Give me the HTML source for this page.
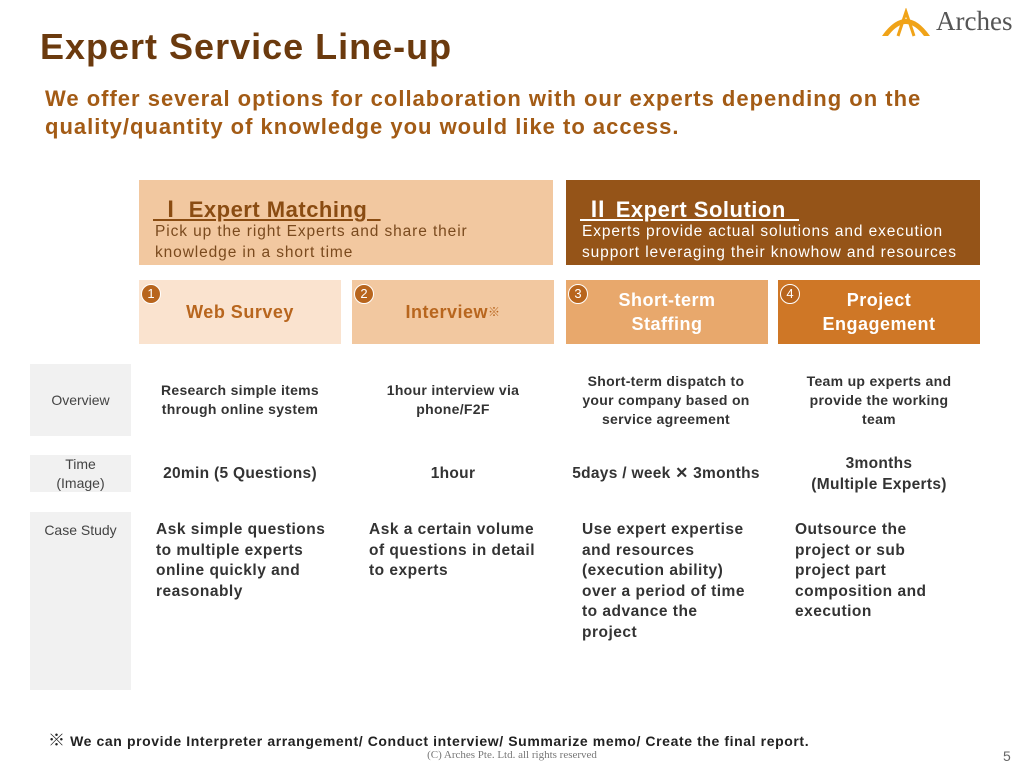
<!DOCTYPE html>
<html><head><meta charset="utf-8"><style>
*{margin:0;padding:0;box-sizing:border-box}
body{width:1024px;height:768px;background:#fff;position:relative;overflow:hidden;font-family:"Liberation Sans","Noto Sans CJK JP",sans-serif}
.a{position:absolute}
.lbl{background:#f1f1f1;color:#444;font-size:14px;display:flex;align-items:center;justify-content:center;text-align:center;line-height:19px}
.cell{color:#333;font-size:14px;font-weight:bold;text-align:center;line-height:19px;display:flex;align-items:center;justify-content:center;letter-spacing:0.3px}
.cs{color:#333;font-size:15.5px;font-weight:bold;line-height:20.5px;letter-spacing:0.5px}
.box{display:flex;align-items:center;justify-content:center;text-align:center;font-size:18px;font-weight:bold;line-height:24px;letter-spacing:0.5px}
.num{position:absolute;left:2px;top:4px;width:20px;height:20px;border-radius:50%;background:#b8651d;border:1.5px solid #fff;color:#fff;font-size:13px;display:flex;align-items:center;justify-content:center;font-weight:normal;letter-spacing:0}
</style></head><body>
<div class="a" style="left:880px;top:8px;width:140px;height:32px">
<svg width="52" height="30" viewBox="0 0 52 30"><path d="M2 28 Q26 -6 50 28 L44 28 Q26 4 8 28Z" fill="#f0a318"/><path d="M18 28 L26 4 L34 28" stroke="#f0a318" stroke-width="3" fill="none"/></svg>
<span class="a" style="left:56px;top:-2px;font-family:'Liberation Serif',serif;font-size:27px;color:#555">Arches</span></div>
<div class="a" style="left:40px;top:26px;font-size:36px;color:#6b3a0e;font-weight:bold;letter-spacing:1px">Expert Service Line-up</div>
<div class="a" style="left:45px;top:85px;font-size:22px;line-height:28px;color:#a35b15;font-weight:bold;letter-spacing:1px">We offer several options for collaboration with our experts depending on the<br>quality/quantity of knowledge you would like to access.</div>
<div class="a" style="left:139px;top:180px;width:414px;height:85px;background:#f2c8a0;color:#8a4c12">
<div class="a" style="left:14px;top:12px;font-size:22px;font-weight:bold;text-decoration:underline;letter-spacing:0.5px">&nbsp;Ⅰ Expert Matching&nbsp;&nbsp;</div>
<div class="a" style="left:16px;top:42px;font-size:15.5px;line-height:20.5px;color:#7a4a1e;letter-spacing:0.9px">Pick up the right Experts and share their<br>knowledge in a short time</div></div>
<div class="a" style="left:566px;top:180px;width:414px;height:85px;background:#955418;color:#fff">
<div class="a" style="left:14px;top:12px;font-size:22px;font-weight:bold;text-decoration:underline;letter-spacing:0.5px">&nbsp;Ⅱ Expert Solution&nbsp;&nbsp;</div>
<div class="a" style="left:16px;top:42px;font-size:15.5px;line-height:20.5px;letter-spacing:0.9px">Experts provide actual solutions and execution<br>support leveraging their knowhow and resources</div></div>
<div class="a box" style="left:139px;top:280px;width:202px;height:64px;background:#fae3cf;color:#b8661e"><span class="num">1</span>Web Survey</div>
<div class="a box" style="left:352px;top:280px;width:202px;height:64px;background:#f2c8a0;color:#b8661e"><span class="num">2</span>Interview<sup style="font-size:12px">※</sup></div>
<div class="a box" style="left:566px;top:280px;width:202px;height:64px;background:#e8a86c;color:#fff"><span class="num">3</span>Short-term<br>Staffing</div>
<div class="a box" style="left:778px;top:280px;width:202px;height:64px;background:#cf7726;color:#fff"><span class="num">4</span>Project<br>Engagement</div>
<div class="a lbl" style="left:30px;top:364px;width:101px;height:72px">Overview</div>
<div class="a lbl" style="left:30px;top:455px;width:101px;height:37px">Time<br>(Image)</div>
<div class="a lbl" style="left:30px;top:512px;width:101px;height:178px;align-items:flex-start;padding-top:9px">Case Study</div>
<div class="a cell" style="left:140px;top:364px;width:200px;height:72px">Research simple items<br>through online system</div>
<div class="a cell" style="left:353px;top:364px;width:200px;height:72px">1hour interview via<br>phone/F2F</div>
<div class="a cell" style="left:566px;top:364px;width:200px;height:72px">Short-term dispatch to<br>your company based on<br>service agreement</div>
<div class="a cell" style="left:779px;top:364px;width:200px;height:72px">Team up experts and<br>provide the working<br>team</div>
<div class="a cell" style="left:140px;top:455px;width:200px;height:37px;font-size:15.5px">20min (5 Questions)</div>
<div class="a cell" style="left:353px;top:455px;width:200px;height:37px;font-size:15.5px">1hour</div>
<div class="a cell" style="left:556px;top:455px;width:220px;height:37px;font-size:15.5px">5days / week ✕ 3months</div>
<div class="a cell" style="left:779px;top:452px;width:200px;height:43px;font-size:15.5px;line-height:21px">3months<br>(Multiple Experts)</div>
<div class="a cs" style="left:156px;top:520px">Ask simple questions<br>to multiple experts<br>online quickly and<br>reasonably</div>
<div class="a cs" style="left:369px;top:520px">Ask a certain volume<br>of questions in detail<br>to experts</div>
<div class="a cs" style="left:582px;top:520px">Use expert expertise<br>and resources<br>(execution ability)<br>over a period of time<br>to advance the<br>project</div>
<div class="a cs" style="left:795px;top:520px">Outsource the<br>project or sub<br>project part<br>composition and<br>execution</div>
<div class="a" style="left:48px;top:726px;font-size:14px;font-weight:bold;color:#222;letter-spacing:0.6px"><span style="font-size:17px;font-weight:normal">※</span> We can provide Interpreter arrangement/ Conduct interview/ Summarize memo/ Create the final report.</div>
<div class="a" style="left:0;width:1024px;top:749px;text-align:center;font-family:'Liberation Serif',serif;font-size:11px;color:#777">(C) Arches Pte. Ltd. all rights reserved</div>
<div class="a" style="left:1003px;top:748px;font-size:14px;color:#666">5</div>
</body></html>
